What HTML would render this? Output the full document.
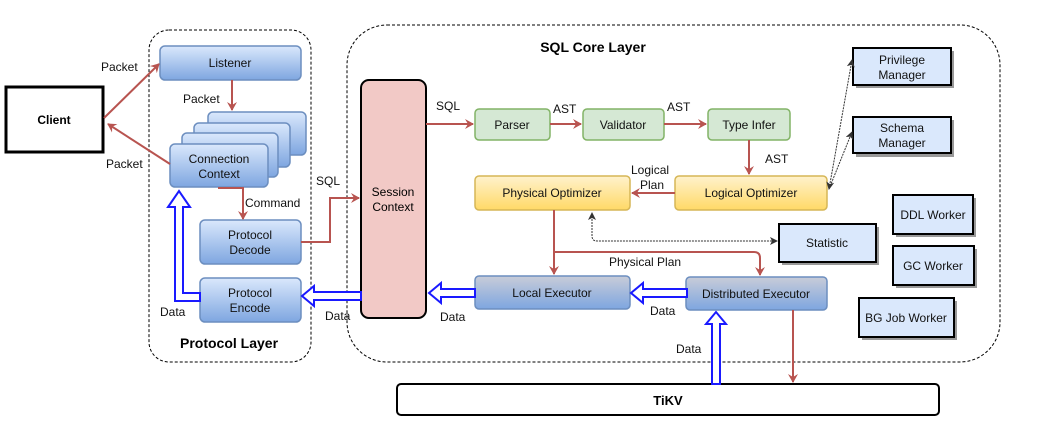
<!DOCTYPE html>
<html><head><meta charset="utf-8"><style>
html,body{margin:0;padding:0;background:#fff;}
svg{display:block;font-family:"Liberation Sans",sans-serif;}
</style></head><body>
<svg width="1042" height="436" viewBox="0 0 1042 436" xmlns="http://www.w3.org/2000/svg">
<defs>
<linearGradient id="gb" x1="0" y1="0" x2="0" y2="1"><stop offset="0" stop-color="#dae8fc"/><stop offset="1" stop-color="#7ea6e0"/></linearGradient>
<linearGradient id="gy" x1="0" y1="0" x2="0" y2="1"><stop offset="0" stop-color="#fff2cc"/><stop offset="1" stop-color="#ffd966"/></linearGradient>
<linearGradient id="gg" x1="0" y1="0" x2="0" y2="1"><stop offset="0" stop-color="#c8ccd8"/><stop offset="1" stop-color="#7ea6e0"/></linearGradient>
<marker id="ar" markerWidth="10" markerHeight="10" refX="8" refY="5" orient="auto" markerUnits="userSpaceOnUse"><path d="M0,0 L9,5 L0,10 L3,5 Z" fill="#b85450"/></marker>
<marker id="ak" markerWidth="8" markerHeight="8" refX="7" refY="4" orient="auto" markerUnits="userSpaceOnUse"><path d="M0,0 L8,4 L0,8 L2,4 Z" fill="#333"/></marker>
<marker id="aks" markerWidth="8" markerHeight="8" refX="1" refY="4" orient="auto" markerUnits="userSpaceOnUse"><path d="M8,0 L0,4 L8,8 L6,4 Z" fill="#333"/></marker>
</defs>

<!-- layers -->
<rect x="149" y="30" width="162" height="332" rx="20" fill="none" stroke="#000" stroke-dasharray="3,2"/>
<rect x="347" y="25" width="653" height="337" rx="40" fill="none" stroke="#000" stroke-dasharray="3,2"/>
<text x="229" y="348" font-size="14" font-weight="bold" text-anchor="middle">Protocol Layer</text>
<text x="593" y="52" font-size="14" font-weight="bold" text-anchor="middle">SQL Core Layer</text>

<!-- client -->
<rect x="6" y="87" width="97" height="65" fill="#fff" stroke="#000" stroke-width="3"/>
<text x="54" y="124" font-size="12" font-weight="bold" text-anchor="middle">Client</text>

<!-- protocol boxes -->
<g stroke="#6c8ebf" stroke-width="1.5" fill="url(#gb)">
<rect x="160" y="46" width="141" height="34" rx="5"/>
<rect x="208" y="112" width="98" height="43" rx="5"/>
<rect x="194" y="123" width="96" height="44" rx="5"/>
<rect x="182" y="133" width="96" height="44" rx="5"/>
<rect x="170" y="144" width="98" height="43" rx="5"/>
<rect x="200" y="220" width="101" height="44" rx="5"/>
<rect x="200" y="278" width="101" height="44" rx="5"/>
</g>
<g font-size="12" text-anchor="middle" fill="#111">
<text x="230" y="67">Listener</text>
<text x="219" y="163">Connection</text><text x="219" y="178">Context</text>
<text x="250" y="239">Protocol</text><text x="250" y="254">Decode</text>
<text x="250" y="297">Protocol</text><text x="250" y="312">Encode</text>
</g>

<!-- session -->
<rect x="361" y="80" width="65" height="238" rx="8" fill="#f2c9c6" stroke="#000" stroke-width="2"/>
<text x="393" y="196" font-size="12" text-anchor="middle">Session</text>
<text x="393" y="211" font-size="12" text-anchor="middle">Context</text>

<!-- green -->
<g stroke="#82b366" stroke-width="1.5" fill="#d5e8d4">
<rect x="475" y="109" width="75" height="31" rx="4"/>
<rect x="583" y="109" width="81" height="31" rx="4"/>
<rect x="708" y="109" width="82" height="31" rx="4"/>
</g>
<!-- yellow -->
<g stroke="#d6b656" stroke-width="1.5" fill="url(#gy)">
<rect x="475" y="176" width="155" height="34" rx="4"/>
<rect x="675" y="176" width="152" height="34" rx="4"/>
</g>
<!-- executors -->
<g stroke="#6c8ebf" stroke-width="1.5" fill="url(#gg)">
<rect x="475" y="276" width="155" height="33" rx="4"/>
<rect x="686" y="277" width="141" height="33" rx="4"/>
</g>
<!-- managers -->
<g stroke="#000" stroke-width="2" fill="#dae8fc">
<rect x="856" y="51" width="98" height="37" fill="#999" stroke="none"/>
<rect x="853" y="48" width="98" height="37"/>
<rect x="856" y="120" width="98" height="37" fill="#999" stroke="none"/>
<rect x="853" y="117" width="98" height="36"/>
<rect x="782" y="227" width="97" height="38" fill="#999" stroke="none"/>
<rect x="779" y="224" width="97" height="38"/>
<rect x="896" y="198" width="80" height="39" fill="#999" stroke="none"/>
<rect x="893" y="195" width="80" height="39"/>
<rect x="896" y="249" width="81" height="39" fill="#999" stroke="none"/>
<rect x="893" y="246" width="81" height="39"/>
<rect x="862" y="301" width="95" height="39" fill="#999" stroke="none"/>
<rect x="859" y="298" width="95" height="39"/>
</g>
<g font-size="12" text-anchor="middle" fill="#111">
<text x="512" y="129">Parser</text>
<text x="623" y="129">Validator</text>
<text x="749" y="129">Type Infer</text>
<text x="552" y="197">Physical Optimizer</text>
<text x="751" y="197">Logical Optimizer</text>
<text x="552" y="297">Local Executor</text>
<text x="756" y="298">Distributed Executor</text>
<text x="902" y="64">Privilege</text><text x="902" y="79">Manager</text>
<text x="902" y="132">Schema</text><text x="902" y="147">Manager</text>
<text x="827" y="247">Statistic</text>
<text x="933" y="219">DDL Worker</text>
<text x="933" y="270">GC Worker</text>
<text x="906" y="322">BG Job Worker</text>
</g>

<!-- TiKV -->
<rect x="397" y="384" width="542" height="31" rx="4" fill="#fff" stroke="#000" stroke-width="2"/>
<text x="668" y="405" font-size="13" font-weight="bold" text-anchor="middle">TiKV</text>

<!-- red arrows -->
<g stroke="#b85450" stroke-width="2" fill="none" marker-end="url(#ar)">
<line x1="104" y1="118" x2="159" y2="64"/>
<line x1="170" y1="164" x2="108" y2="124"/>
<line x1="232" y1="80" x2="232" y2="110"/>
<polyline points="218,188 243,188 243,219"/>
<polyline points="301,242 330,242 330,198 359,198"/>
<line x1="426" y1="124" x2="473" y2="124"/>
<line x1="550" y1="124" x2="581" y2="124"/>
<line x1="664" y1="124" x2="706" y2="124"/>
<line x1="749" y1="140" x2="749" y2="174"/>
<line x1="675" y1="193" x2="632" y2="193"/>
<line x1="554" y1="210" x2="554" y2="274"/>
<path d="M554,252 L754,252 Q760,252 760,258 L760,275"/>
<line x1="793" y1="310" x2="793" y2="382"/>
</g>
<!-- dotted -->
<g stroke="#333" stroke-width="1" fill="none" stroke-dasharray="2,1">
<path d="M592,213 L592,236 Q592,241 597,241 L777,241" marker-end="url(#ak)" marker-start="url(#aks)"/>
<line x1="829" y1="189" x2="852" y2="60" marker-end="url(#ak)" marker-start="url(#aks)"/>
<line x1="829" y1="189" x2="852" y2="132" marker-end="url(#ak)"/>
</g>

<!-- blue hollow arrows -->
<g stroke="#1a1aff" stroke-width="2" fill="#fff" stroke-linejoin="miter">
<polygon points="361,292 314,292 314,286 302,296 314,306 314,300 361,300"/>
<polygon points="475,289 441,289 441,283 429,293 441,303 441,297 475,297"/>
<polygon points="687,289 643,289 643,283 631,293 643,303 643,297 687,297"/>
<polygon points="712,384 712,324 706,324 716,312 726,324 720,324 720,384"/>
<polygon points="200,293 183,293 183,207 190,207 179,191 168,207 175,207 175,301 200,301"/>
</g>

<!-- labels -->
<g font-size="12" fill="#111">
<text x="101" y="71">Packet</text>
<text x="183" y="103">Packet</text>
<text x="106" y="168">Packet</text>
<text x="245" y="207">Command</text>
<text x="316" y="185">SQL</text>
<text x="160" y="316">Data</text>
<text x="325" y="320">Data</text>
<text x="436" y="110">SQL</text>
<text x="553" y="113">AST</text>
<text x="667" y="111">AST</text>
<text x="765" y="163">AST</text>
<text x="631" y="174">Logical</text>
<text x="640" y="189">Plan</text>
<text x="609" y="266">Physical Plan</text>
<text x="440" y="321">Data</text>
<text x="650" y="315">Data</text>
<text x="676" y="353">Data</text>
</g>
</svg>
</body></html>
